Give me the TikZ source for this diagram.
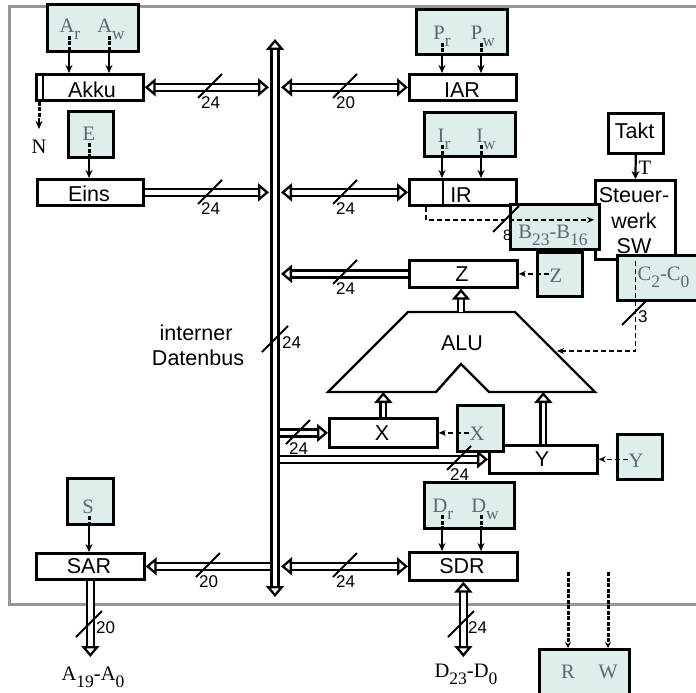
\documentclass[tikz,border=0pt]{standalone}
\usepackage{fontspec}
\setmainfont{Liberation Sans}
\newfontfamily\seriffont{Liberation Serif}
\usetikzlibrary{arrows.meta,calc}
\definecolor{ctlfill}{RGB}{221,238,236}
\definecolor{ctltext}{RGB}{88,106,106}
\definecolor{framegray}{RGB}{150,150,150}
\newcommand\lowsub[1]{\raisebox{-7pt}{\fontsize{17.5}{18}\selectfont #1}}
\newcommand\bw[4]{\draw[slashln] ($(#1,#2)+(-12,12)$) -- ($(#1,#2)+(12,-12)$); \node[num] (#3) at ($(#1,#2)+(-9,22)$) {#4};}
\newcommand\bwv[4]{\draw[slashln] ($(#1,#2)+(-13,13)$) -- ($(#1,#2)+(13,-13)$); \node[num] (#3) at ($(#1,#2)+(7,9)$) {#4};}
\newcommand\ctl[4]{\draw[thickdash] ([xshift=#4pt,yshift=-3pt]#1.base) -- ([xshift=#4pt]#1.base |- #2.south); \draw[ctlarr] ([xshift=#4pt]#1.base |- #2.south) -- ([xshift=#4pt]#1.base |- #3.north);}
\begin{document}
\begin{tikzpicture}[x=1pt,y=-1pt,
  regbox/.style={draw, line width=2.7pt, inner sep=0pt, anchor=north west, fill=white},
  ctlbox/.style={draw, line width=2.7pt, inner sep=0pt, anchor=north west, fill=ctlfill},
  lbl/.style={inner sep=0.5pt, anchor=base, font=\fontsize{21.5}{24}\selectfont},
  clbl/.style={inner sep=0.5pt, anchor=base, text=ctltext, font=\seriffont\fontsize{20.5}{22}\selectfont},
  slbl/.style={inner sep=0.5pt, anchor=base, font=\seriffont\fontsize{20.5}{22}\selectfont},
  num/.style={inner sep=0pt, anchor=base west, font=\fontsize{17}{19}\selectfont},
  slashln/.style={line width=1.8pt},
  bus/.style={double, line width=2.7pt, double distance=4.3pt},
  smallbus/.style={double, line width=2.2pt, double distance=3.4pt},
  >={Triangle[open, length=11pt, width=18pt, line width=2.3pt]},
  thickdash/.style={line width=3pt, dash pattern=on 4pt off 1.5pt},
  ctlarr/.style={line width=1.5pt, -{Stealth[length=8pt,width=7pt]}},
  thindash/.style={line width=1.6pt, dash pattern=on 5pt off 3pt, -{Stealth[length=7pt,width=6pt]}},
]
\useasboundingbox (0,0) rectangle (696,693);
% frame
\draw[framegray, line width=3pt] (710,604.5) -- (9.5,604.5) -- (9.5,6.5) -- (710,6.5);
% coordinates
\coordinate (bustop) at (275,39);
\coordinate (busbot) at (275,597);
\coordinate (busL) at (269,0);
\coordinate (busR) at (281,0);
\coordinate (busLe) at (271,0);
\coordinate (busRe) at (279,0);
\coordinate (aluZ) at (461,312);
\coordinate (aluX) at (382,392);
\coordinate (aluY) at (541,392);
\coordinate (aluR) at (557,351);
\coordinate (aout) at (89,657);
\coordinate (dout) at (461,657);
\coordinate (nmid) at (39,118);
\coordinate (ntip) at (39,129);
\coordinate (rtop) at (568,572);
\coordinate (wtop) at (608,572);

% register boxes
\node[regbox, minimum width=107pt, minimum height=26pt] (akku) at (35,73) {};
\node[regbox, minimum width=106pt, minimum height=26pt] (eins) at (36,178) {};
\node[regbox, minimum width=107pt, minimum height=26pt] (iar) at (408,73) {};
\node[regbox, minimum width=107pt, minimum height=26pt] (ir) at (408,178) {};
\node[regbox, minimum width=108pt, minimum height=27pt] (z) at (408,259) {};
\node[regbox, minimum width=108pt, minimum height=29pt] (x) at (328,417) {};
\node[regbox, minimum width=108pt, minimum height=28pt] (y) at (488,444) {};
\node[regbox, minimum width=108pt, minimum height=28pt] (sdr) at (408,551) {};
\node[regbox, minimum width=108pt, minimum height=26pt] (sar) at (35,552) {};
\node[regbox, minimum width=55pt, minimum height=40pt] (takt) at (607,112) {};
\node[regbox, minimum width=80pt, minimum height=79pt] (sw) at (594,179) {};
\draw[line width=2.7pt] ($(akku.north west)+(8,0)$) -- ($(akku.south west)+(8,0)$);
\draw[line width=2.7pt] ($(ir.north west)+(35,0)$) -- ($(ir.south west)+(35,0)$);

% ALU
\draw[line width=2.4pt, line join=miter] (408,312) -- (515,312) -- (595,392) -- (489,392) -- (461,364) -- (436,392) -- (328,392) -- cycle;

% register labels
\node[lbl] (takku) at (92,97) {Akku};
\node[lbl] (teins) at (89,201) {Eins};
\node[lbl] (tiar) at (462,97) {IAR};
\node[lbl] (tir) at (461,202) {IR};
\node[lbl] (tz) at (462,281) {Z};
\node[lbl] (tx) at (382,440) {X};
\node[lbl] (ty) at (542,466) {Y};
\node[lbl] (tsdr) at (462,573) {SDR};
\node[lbl] (tsar) at (89,573) {SAR};
\node[lbl] (ttakt) at (634.5,138) {Takt};
\node[lbl] (tsw1) at (634,202) {Steuer-};
\node[lbl] (tsw2) at (634,228) {werk};
\node[lbl] (tsw3) at (634,253) {SW};
\node[lbl] (talu) at (462,350) {ALU};
\node[lbl] (tib1) at (196,340) {interner};
\node[lbl] (tib2) at (198,365) {Datenbus};

% control boxes
\node[ctlbox, minimum width=91pt, minimum height=47pt] (ca) at (46,3) {};
\node[ctlbox, minimum width=45pt, minimum height=46pt] (ce) at (67,110) {};
\node[ctlbox, minimum width=91pt, minimum height=45pt] (cp) at (415,8) {};
\node[ctlbox, minimum width=91pt, minimum height=44pt] (ci) at (423,111) {};
\node[ctlbox, minimum width=89pt, minimum height=45pt] (cb) at (509,203) {};
\node[ctlbox, minimum width=100pt, minimum height=45pt] (cc) at (616,254) {};
\node[ctlbox, minimum width=45pt, minimum height=44pt] (cz) at (536,251) {};
\node[ctlbox, minimum width=46pt, minimum height=46pt] (cx) at (456,404) {};
\node[ctlbox, minimum width=45pt, minimum height=45pt] (cy) at (616,433) {};
\node[ctlbox, minimum width=90pt, minimum height=46pt] (cd) at (423,481) {};
\node[ctlbox, minimum width=46pt, minimum height=46pt] (cs) at (66,477) {};
\node[ctlbox, minimum width=90pt, minimum height=50pt] (crw) at (538,648) {};

% control labels
\node[clbl] (ar) at (70,33) {A\lowsub{r}};
\node[clbl] (aw) at (111,33) {A\lowsub{w}};
\node[clbl] (le) at (89,140) {E};
\node[clbl] (pr) at (442,40) {P\lowsub{r}};
\node[clbl] (pw) at (483,40) {P\lowsub{w}};
\node[clbl] (lir) at (444,142) {I\lowsub{r}};
\node[clbl] (liw) at (486,142) {I\lowsub{w}};
\node[clbl] (lb) at (553,238) {B\lowsub{23}-B\lowsub{16}};
\node[clbl, anchor=base west] (lc) at (637,280) {C\lowsub{2}-C\lowsub{0}};
\node[clbl] (lz) at (556,282) {Z};
\node[clbl] (lx) at (477,440) {X};
\node[clbl] (ly) at (636,467) {Y};
\node[clbl] (ldr) at (443,512) {D\lowsub{r}};
\node[clbl] (ldw) at (485,512) {D\lowsub{w}};
\node[clbl] (ls) at (88,513) {S};
\node[clbl] (lr) at (568,678) {R};
\node[clbl] (lw) at (608,678) {W};

% black serif labels
\node[slbl] (ln) at (39,153) {N};
\node[slbl] (lt) at (645,174) {T};
\node[slbl] (la) at (93,680) {A\lowsub{19}-A\lowsub{0}};
\node[slbl] (ld) at (466,677) {D\lowsub{23}-D\lowsub{0}};

% control arrows
\ctl{ar}{ca}{akku}{-1}
\ctl{aw}{ca}{akku}{-2}
\ctl{le}{ce}{eins}{0}
\ctl{pr}{cp}{iar}{0}
\ctl{pw}{cp}{iar}{-2}
\ctl{lir}{ci}{ir}{-2}
\ctl{liw}{ci}{ir}{-5}
\ctl{ldr}{cd}{sdr}{-1}
\ctl{ldw}{cd}{sdr}{-4}
\ctl{ls}{cs}{sar}{1}
\draw[thickdash] (akku.south west -| nmid) -- (nmid);
\draw[ctlarr] (nmid) -- (ntip);
\draw[thickdash, -{Stealth[length=6pt,width=6pt]}] (rtop) -- (rtop |- crw.north);
\draw[thickdash, -{Stealth[length=6pt,width=6pt]}] (wtop) -- (wtop |- crw.north);
\draw[line width=2.2pt, -{Stealth[length=8pt,width=8pt]}] (takt.south) -- (sw.north);

% thin dashed control lines
\draw[thindash] (lz.west |- z.east) -- (z.east);
\draw[thindash] (lx.west |- x.east) -- (x.east);
\draw[thindash] (ly.west |- y.east) -- (y.east);
\draw[thindash] ($(ir.south west)+(18,0)$) |- (sw.west);
\draw[thindash] (sw.south) |- (aluR);

% bus rows
\draw[bus, <->] (akku.east) -- (akku.east -| busL);
\draw[bus, <->] (iar.west -| busR) -- (iar.west);
\draw[bus, ->] (eins.east) -- (eins.east -| busL);
\draw[bus, <->] (ir.west -| busR) -- (ir.west);
\draw[bus, ->] (z.west) -- (z.west -| busR);
\draw[bus, ->] (x.west -| busRe) -- (x.west);
\draw[bus, ->] (busRe |- y.west) -- (y.west);
\draw[bus, ->] (sar.east -| busLe) -- (sar.east);
\draw[bus, <->] (sdr.west -| busR) -- (sdr.west);
\draw[bus, <->] (busbot) -- (bustop);
\draw[smallbus, ->] (aluZ) -- (aluZ |- z.south);
\draw[smallbus, ->] (x.north) -- (x.north |- aluX);
\draw[smallbus, ->] (y.north) -- (y.north |- aluY);
\draw[bus, ->] (sar.south) -- (sar.south |- aout);
\draw[bus, <->] (sdr.south) -- (sdr.south |- dout);

% bus widths
\bw{210}{86}{w1}{24}
\bw{210}{192}{w2}{24}
\bw{345}{86}{w3}{20}
\bw{345}{192}{w4}{24}
\bw{345}{272}{w5}{24}
\bw{298}{432}{w6}{24}
\bw{459}{458}{w7}{24}
\bw{208}{565}{w8}{20}
\bw{345}{565}{w9}{24}
\bwv{275}{339}{w10}{24}
\bwv{89}{624}{w11}{20}
\bwv{461}{624}{w12}{24}
\draw[slashln] (493,232) -- (519,206);
\node[num, font=\fontsize{15}{15}\selectfont] (w13) at (503,240) {8};
\draw[slashln] (622,325) -- (647,300);
\node[num] (w14) at (638,322) {3};
\end{tikzpicture}
\end{document}
